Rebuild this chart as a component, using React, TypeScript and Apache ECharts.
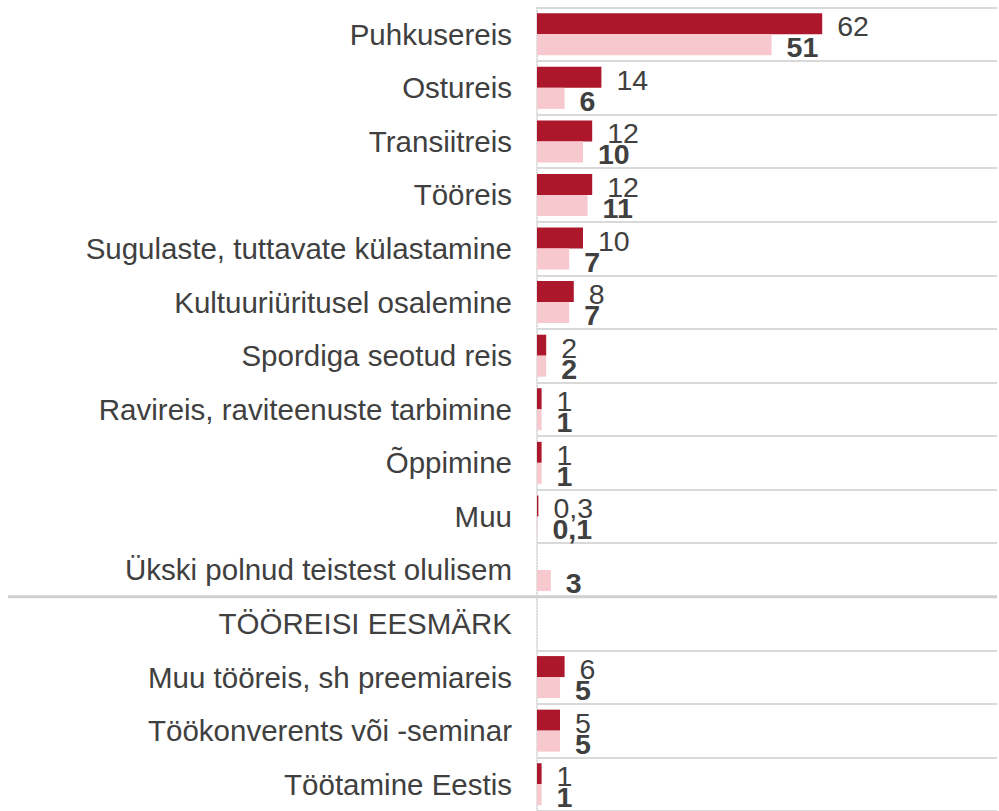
import React, { useEffect, useRef } from "react";
import * as echarts from "echarts";

const categories = [
  "Puhkusereis",
  "Ostureis",
  "Transiitreis",
  "Tööreis",
  "Sugulaste, tuttavate külastamine",
  "Kultuuriüritusel osalemine",
  "Spordiga seotud reis",
  "Ravireis, raviteenuste tarbimine",
  "Õppimine",
  "Muu",
  "Ükski polnud teistest olulisem",
  "TÖÖREISI EESMÄRK",
  "Muu tööreis, sh preemiareis",
  "Töökonverents või -seminar",
  "Töötamine Eestis",
];

const seriesDark: (number | null)[] = [62, 14, 12, 12, 10, 8, 2, 1, 1, 0.3, null, null, 6, 5, 1];
const seriesLight: (number | null)[] = [51, 6, 10, 11, 7, 7, 2, 1, 1, 0.1, 3, null, 5, 5, 1];

const FONT = "'Liberation Sans', Arial, sans-serif";
const TEXT = "#404040";

const fmt = (p: any) => {
  const v = p.value;
  if (v === null || v === undefined || v === "-") return "";
  if (v < 1) return String(v).replace(".", ",");
  return String(Math.round(v));
};

export default function App() {
  const ref = useRef<HTMLDivElement>(null);
  useEffect(() => {
    if (!ref.current) return;
    const chart = echarts.init(ref.current, undefined, { renderer: "svg" });
    chart.setOption({
      animation: false,
      grid: { left: 537, right: 2, top: 7.5, height: 807, containLabel: false },
      xAxis: {
        type: "value",
        min: 0,
        max: 100,
        show: false,
      },
      yAxis: {
        type: "category",
        inverse: true,
        data: categories,
        axisTick: { show: false },
        axisLine: { show: true, lineStyle: { color: "#d4d4d4", width: 1.5, type: "dotted" } },
        splitLine: { show: true, interval: 0, lineStyle: { color: "#d9d9d9", width: 2 } },
        axisLabel: {
          interval: 0,
          margin: 25,
          fontSize: 29.5,
          color: TEXT,
          fontFamily: FONT,
          padding: [4, 0, 0, 0],
        },
      },
      series: [
        {
          type: "bar",
          data: seriesDark,
          barWidth: 21,
          barGap: "0%",
          itemStyle: { color: "#ad172c" },
          label: {
            show: true,
            position: "right",
            distance: 15,
            fontSize: 28.5,
            color: TEXT,
            fontFamily: FONT,
            offset: [0, 2.5],
            formatter: fmt,
          },
        },
        {
          type: "bar",
          data: seriesLight,
          barWidth: 21,
          barGap: "0%",
          itemStyle: { color: "#f8c8cf" },
          label: {
            show: true,
            position: "right",
            distance: 15,
            fontSize: 28.5,
            fontWeight: "bold",
            color: TEXT,
            fontFamily: FONT,
            offset: [0, 2.5],
            formatter: fmt,
          },
        },
      ],
    });
    const y1 = chart.convertToPixel({ yAxisIndex: 0 }, categories[10]) as number;
    const y2 = chart.convertToPixel({ yAxisIndex: 0 }, categories[11]) as number;
    const ySep = (y1 + y2) / 2;
    chart.setOption({
      graphic: [
        {
          type: "line",
          shape: { x1: 8, y1: ySep, x2: 997, y2: ySep },
          style: { stroke: "#d0d0d0", lineWidth: 3 },
          z: 10,
        },
      ],
    });
    return () => chart.dispose();
  }, []);
  return (
    <div
      ref={ref}
      style={{ position: "fixed", left: 0, top: 0, width: 999, height: 811, background: "#fff" }}
    />
  );
}
